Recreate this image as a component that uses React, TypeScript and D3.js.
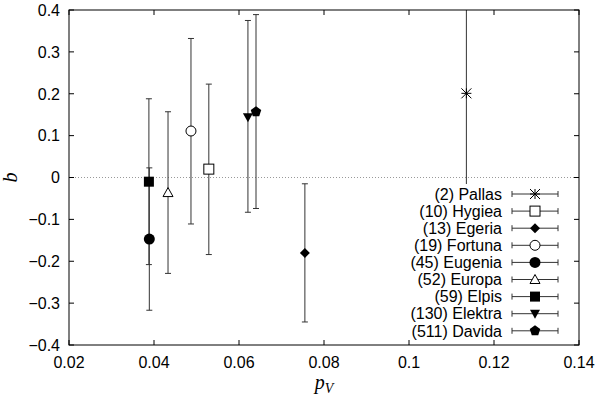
import React from "react";
import * as d3 from "d3";

// asteroid names, albedo p_V and slope b with its error range
const names = ["(2) Pallas", "(10) Hygiea", "(13) Egeria", "(19) Fortuna", "(45) Eugenia", "(52) Europa", "(59) Elpis", "(130) Elektra", "(511) Davida"];
const pV = [0.1135, 0.0529, 0.0755, 0.0487, 0.0389, 0.0433, 0.0388, 0.0621, 0.064];
const bVal = [0.201, 0.02, -0.18, 0.111, -0.147, -0.036, -0.01, 0.144, 0.157];
const bLow = [-0.1, -0.184, -0.345, -0.111, -0.317, -0.229, -0.208, -0.083, -0.074];
const bHigh = [0.6, 0.223, -0.015, 0.332, 0.023, 0.157, 0.188, 0.375, 0.389];
const markers = ["star", "openSquare", "diamond", "openCircle", "circle", "openTriangle", "square", "downTriangle", "pentagon"];

const xTicks = [0.02, 0.04, 0.06, 0.08, 0.1, 0.12, 0.14];
const yTicks = [-0.4, -0.3, -0.2, -0.1, 0, 0.1, 0.2, 0.3, 0.4];

const width = 600;
const height = 399;
const margin = { left: 69, right: 21, top: 10, bottom: 54 };

function Marker({ kind, cx, cy }: { kind: string; cx: number; cy: number }) {
  const s = 5;
  switch (kind) {
    case "star":
      return (
        <g stroke="#000" strokeWidth={1}>
          <line x1={cx - s} y1={cy - s} x2={cx + s} y2={cy + s} />
          <line x1={cx - s} y1={cy + s} x2={cx + s} y2={cy - s} />
          <line x1={cx - s} y1={cy} x2={cx + s} y2={cy} />
          <line x1={cx} y1={cy - s} x2={cx} y2={cy + s} />
        </g>
      );
    case "openSquare":
      return <rect x={cx - s} y={cy - s} width={2 * s} height={2 * s} fill="#fff" stroke="#000" />;
    case "square":
      return <rect x={cx - s} y={cy - s} width={2 * s} height={2 * s} fill="#000" />;
    case "diamond":
      return <path d={`M${cx},${cy - s}L${cx + s},${cy}L${cx},${cy + s}L${cx - s},${cy}Z`} fill="#000" />;
    case "openCircle":
      return <circle cx={cx} cy={cy} r={s} fill="#fff" stroke="#000" />;
    case "circle":
      return <circle cx={cx} cy={cy} r={s + 0.5} fill="#000" />;
    case "openTriangle":
      return <path d={`M${cx},${cy - s}L${cx + s},${cy + s * 0.8}L${cx - s},${cy + s * 0.8}Z`} fill="#fff" stroke="#000" />;
    case "downTriangle":
      return <path d={`M${cx},${cy + s}L${cx + s},${cy - s * 0.8}L${cx - s},${cy - s * 0.8}Z`} fill="#000" />;
    case "pentagon": {
      const pts = d3.range(5).map((i) => {
        const a = -Math.PI / 2 + (i * 2 * Math.PI) / 5;
        return [cx + (s + 0.5) * Math.cos(a), cy + (s + 0.5) * Math.sin(a)];
      });
      return <path d={"M" + pts.map((p) => p.join(",")).join("L") + "Z"} fill="#000" />;
    }
    default:
      return null;
  }
}

function ErrBar({ x, y1, y2 }: { x: number; y1: number; y2: number }) {
  return (
    <g stroke="#333" strokeWidth={1}>
      <line x1={x} x2={x} y1={y1} y2={y2} />
      <line x1={x - 3} x2={x + 3} y1={y1} y2={y1} />
      <line x1={x - 3} x2={x + 3} y1={y2} y2={y2} />
    </g>
  );
}

export default function App() {
  const x = d3.scaleLinear().domain([0.02, 0.14]).range([margin.left, width - margin.right]);
  const y = d3.scaleLinear().domain([-0.4, 0.4]).range([height - margin.bottom, margin.top]);
  const x0 = margin.left, x1 = width - margin.right, y0 = margin.top, y1 = height - margin.bottom;
  const fmt = (v: number) => (v < 0 ? "\u2212" + d3.format("")(Math.abs(v)) : d3.format("")(v));
  const tick = 5;

  const rowY = (i: number) => 194 + i * 17.1;
  const keyTextX = 502;
  const keyL = 512, keyR = 558;

  return (
    <svg width={width} height={height} style={{ position: "absolute", left: 0, top: 0, background: "#fff" }}
      fontFamily="'Liberation Sans', Arial, sans-serif">
      <defs>
        <clipPath id="plot">
          <rect x={x0} y={y0} width={x1 - x0} height={y1 - y0} />
        </clipPath>
      </defs>
      <rect width={width} height={height} fill="#fff" />
      {/* zero line */}
      <line x1={x0} x2={x1} y1={y(0)} y2={y(0)} stroke="#999" strokeWidth={1} strokeDasharray="1,2" />

      {/* error bars and points */}
      <g clipPath="url(#plot)">
        {names.map((n, i) => (
          <ErrBar key={n} x={x(pV[i])} y1={y(bLow[i])} y2={y(bHigh[i])} />
        ))}
      </g>

      {/* opaque key box */}
      <rect x={395} y={184} width={x1 - 395 - 1} height={y1 - 184 - 1} fill="#fff" />

      <g clipPath="url(#plot)">
        {names.map((n, i) => (
          <Marker key={n} kind={markers[i]} cx={x(pV[i])} cy={y(bVal[i])} />
        ))}
      </g>

      {/* ticks */}
      <g stroke="#000" strokeWidth={1}>
        {xTicks.map((t) => (
          <g key={t}>
            <line x1={x(t)} x2={x(t)} y1={y1} y2={y1 - tick} />
            <line x1={x(t)} x2={x(t)} y1={y0} y2={y0 + tick} />
          </g>
        ))}
        {yTicks.map((t) => (
          <g key={t}>
            <line x1={x0} x2={x0 + tick} y1={y(t)} y2={y(t)} />
            <line x1={x1} x2={x1 - tick} y1={y(t)} y2={y(t)} />
          </g>
        ))}
      </g>
      <rect x={x0} y={y0} width={x1 - x0} height={y1 - y0} fill="none" stroke="#000" strokeWidth={1} />

      {/* tick labels */}
      <g fontSize={16} fill="#000">
        {xTicks.map((t) => (
          <text key={t} x={x(t)} y={y1 + 23} textAnchor="middle">{fmt(t)}</text>
        ))}
        {yTicks.map((t) => (
          <text key={t} x={x0 - 9} y={y(t)} dy="0.36em" textAnchor="end">{fmt(t)}</text>
        ))}
      </g>

      {/* axis labels */}
      <text transform={`translate(17,${y(0)}) rotate(-90)`} textAnchor="middle" fontFamily="'Liberation Serif', serif"
        fontStyle="italic" fontSize={20}>b</text>
      <text x={x(0.08)} y={389} textAnchor="middle" fontFamily="'Liberation Serif', serif" fontStyle="italic" fontSize={20}>
        p<tspan fontSize={14} dy={4}>V</tspan>
      </text>

      {/* key */}
      <g fontSize={16}>
        {names.map((n, i) => {
          const cy = rowY(i);
          return (
            <g key={n}>
              <text x={keyTextX} y={cy} dy="0.36em" textAnchor="end">{n}</text>
              <g stroke="#333" strokeWidth={1}>
                <line x1={keyL} x2={keyR} y1={cy} y2={cy} />
                <line x1={keyL} x2={keyL} y1={cy - 3} y2={cy + 3} />
                <line x1={keyR} x2={keyR} y1={cy - 3} y2={cy + 3} />
              </g>
              <Marker kind={markers[i]} cx={(keyL + keyR) / 2} cy={cy} />
            </g>
          );
        })}
      </g>
    </svg>
  );
}
